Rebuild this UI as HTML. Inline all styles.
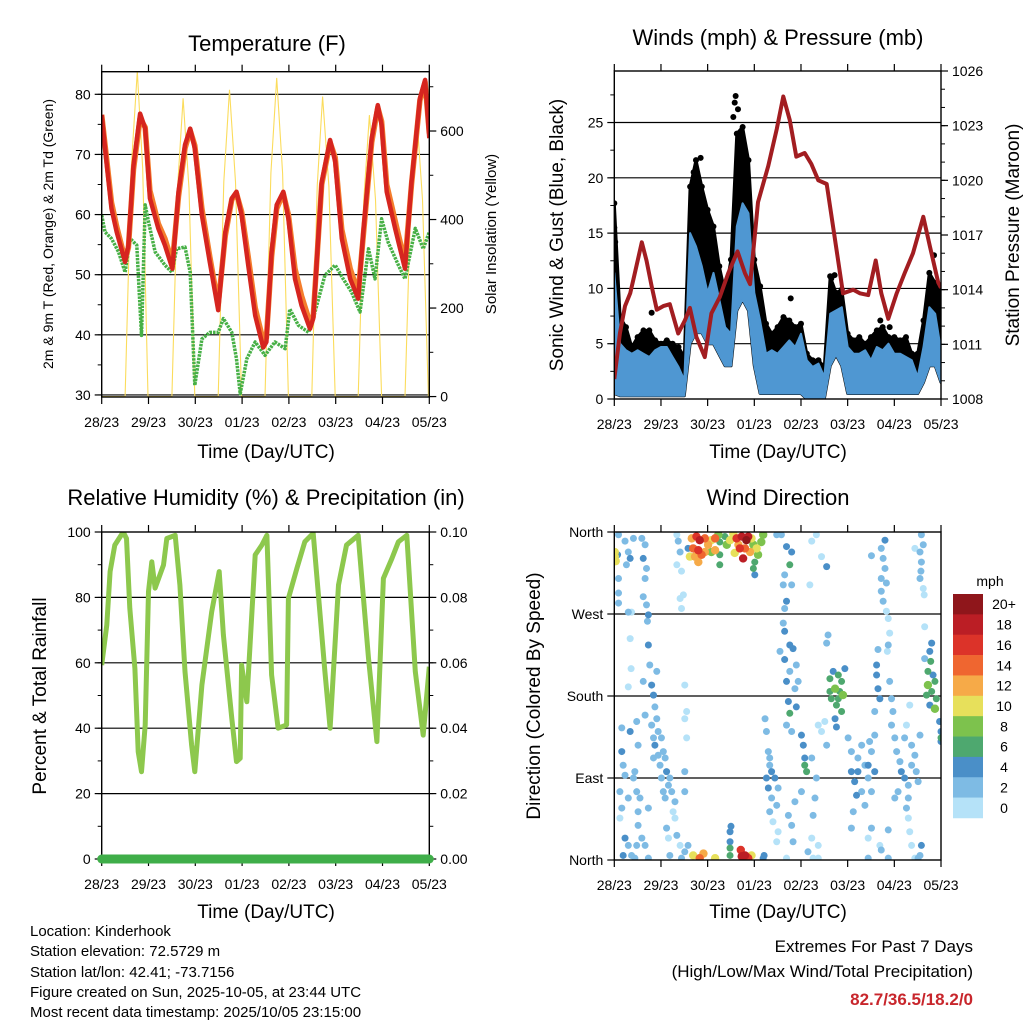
<!DOCTYPE html>
<html><head><meta charset="utf-8"><title>Kinderhook station charts</title>
<style>
html,body{margin:0;padding:0;background:#fff;}
svg{display:block;font-family:"Liberation Sans",Arial,sans-serif;}
</style></head>
<body>
<svg id="svg" width="1024" height="1024" viewBox="0 0 1024 1024" xmlns="http://www.w3.org/2000/svg">
<rect x="0" y="0" width="1024" height="1024" fill="#fff"/>
<g id="plots"></g>
<g id="text" font-family="Liberation Sans, Arial, sans-serif" fill="#000">
<text x="267" y="51" font-size="22" text-anchor="middle">Temperature (F)</text>
<text x="778" y="45" font-size="22" text-anchor="middle">Winds (mph) &amp; Pressure (mb)</text>
<text x="266" y="505" font-size="22" text-anchor="middle">Relative Humidity (%) &amp; Precipitation (in)</text>
<text x="778" y="505" font-size="22" text-anchor="middle">Wind Direction</text>
<text x="266" y="458" font-size="19" text-anchor="middle">Time (Day/UTC)</text>
<text x="778" y="458" font-size="19" text-anchor="middle">Time (Day/UTC)</text>
<text x="266" y="918" font-size="19" text-anchor="middle">Time (Day/UTC)</text>
<text x="778" y="918" font-size="19" text-anchor="middle">Time (Day/UTC)</text>
<text transform="translate(53,234) rotate(-90)" font-size="14" text-anchor="middle">2m &amp; 9m T (Red, Orange) &amp; 2m Td (Green)</text>
<text transform="translate(496,234) rotate(-90)" font-size="15" text-anchor="middle">Solar Insolation (Yellow)</text>
<text transform="translate(563,235) rotate(-90)" font-size="19" text-anchor="middle">Sonic Wind &amp; Gust (Blue, Black)</text>
<text transform="translate(1019,235) rotate(-90)" font-size="19" text-anchor="middle">Station Pressure (Maroon)</text>
<text transform="translate(46,696) rotate(-90)" font-size="19" text-anchor="middle">Percent &amp; Total Rainfall</text>
<text transform="translate(540,696) rotate(-90)" font-size="19" text-anchor="middle">Direction (Colored By Speed)</text>
<g font-size="15">
<text x="30" y="936">Location: Kinderhook</text>
<text x="30" y="956">Station elevation: 72.5729 m</text>
<text x="30" y="977">Station lat/lon: 42.41; -73.7156</text>
<text x="30" y="997">Figure created on Sun, 2025-10-05, at 23:44 UTC</text>
<text x="30" y="1017">Most recent data timestamp: 2025/10/05 23:15:00</text>
</g>
<text x="973" y="952" font-size="17" text-anchor="end">Extremes For Past 7 Days</text>
<text x="973" y="977" font-size="17" text-anchor="end">(High/Low/Max Wind/Total Precipitation)</text>
<text x="973" y="1005" font-size="17" font-weight="bold" fill="#c8262c" text-anchor="end">82.7/36.5/18.2/0</text>
</g>
</svg>
<script>
// ---------- data ----------
const dayLabels = ["28/23","29/23","30/23","01/23","02/23","03/23","04/23","05/23"];
const redT = [0,.11,.21,.32,.5,.57,.68,.82,.93,1.03,1.21,1.35,1.51,1.64,1.78,1.89,1.99,2.14,2.31,2.49,2.64,2.78,2.88,2.99,3.13,3.28,3.45,3.52,3.63,3.74,3.88,3.99,4.13,4.27,4.45,4.52,4.70,4.88,4.99,5.13,5.31,5.48,5.59,5.77,5.90,5.98,6.09,6.27,6.48,6.62,6.80,6.91,7.0];
const redV = [76.6,68.2,61,57.1,52.1,54.9,68.2,76.8,74.3,62.7,57.7,54.9,51,63.8,71.6,74.3,71,59.9,52.1,44.1,57.1,62.7,63.8,59.9,51.6,43.2,37.9,38.8,53.8,61.6,63.8,59.3,49.3,44.9,41,42.7,65.4,72.4,68.8,56,49.3,46,57.1,72.7,78.2,74.9,63.8,57.7,51,65.4,79.3,82.4,72.7];
const orangeV = [76.6,69,62,58,52.5,54.5,67.5,76,74.5,64,58.5,56,52,63,71,74,71.5,61,53,45,56.5,62.5,63.5,60.5,53,44.5,39,39.5,53,61,63.5,60,51,46.5,42,43,65,72,69.5,57.5,51,47,56.5,72,77.8,75.5,65,59,52,65,79,82,73.5];
const dewT = [0,.07,.21,.36,.5,.61,.75,.78,.85,.93,1.0,1.14,1.35,1.5,1.6,1.78,1.89,1.99,2.14,2.31,2.49,2.6,2.78,2.88,2.96,3.1,3.28,3.49,3.7,3.92,4.02,4.2,4.42,4.52,4.77,4.99,5.16,5.34,5.52,5.70,5.84,5.98,6.12,6.34,6.48,6.70,6.87,7];
const dewV = [59.9,57.1,56,53.8,50.4,56,54.9,50.4,39.9,61.6,58.8,53.8,51.6,50.4,54.3,54.6,50.4,31.6,39.3,40.4,40.4,42.7,40.4,36,30.2,36,38.8,36.6,38.8,37.7,44.3,41.6,40.4,42.7,49.9,51.6,49.3,47.1,43.8,54.3,49.3,59.3,55.4,51.6,49.3,57.7,54.3,57.1];
const solarT = [0,.5,.63,.76,.875,.99,1.5,1.62,1.74,1.865,1.99,2.49,2.61,2.73,2.86,2.99,3.49,3.615,3.74,3.865,3.99,4.49,4.605,4.72,4.855,4.99,5.48,5.6,5.72,5.85,5.98,6.48,6.605,6.73,6.855,6.98,7];
const solarW = [0,0,515,735,515,0,0,470,674,470,0,0,485,693,485,0,0,505,720,505,0,0,475,678,475,0,0,445,636,445,0,0,445,636,445,0,0];
// wind: samples every 3 hours (0.125 day)
const windStep = 0.125;
const windHigh = [11.4,5,4.4,4.1,4.4,4.1,3.8,4.4,4.7,4.7,3.8,2.9,1.7,15,13.8,12,9.6,11.4,9,6.5,5.9,15.6,17.7,16.8,9.6,7.1,4.1,4.4,4.1,4.7,5.3,4.7,5.9,3.5,2.9,3.2,2,7.7,8,8.3,4.7,4.1,4.1,4.4,3.5,4.7,4.4,5,4.1,4.1,3.8,3.5,2,4.7,8.3,7.7,4.4];
const windLow = [0.5,0.3,0.3,0.3,0.3,0.3,0.3,0.3,0.3,0.3,0.3,0.3,0.3,5,6,6,5,5,4,3,3,8,9,8,3,0.5,0.5,0.5,0.5,0.5,0.5,0.5,0.5,0,0,0,0,3,4,3,0.5,0.5,0.5,0.5,0.5,0.5,0.5,0.5,0.5,0.5,0.5,0.5,0.5,1.5,3,3,1.5];
const gustV = [17.7,7.4,6.5,4.7,5.6,6.2,6.2,5.3,5,5.3,5,4.7,3.8,19.2,21.6,19.2,17.1,15.6,12,9.6,12.6,24,24.6,21.6,12.6,10.2,6.8,5.9,6.5,7.4,7.1,6.5,6.8,4.1,3.5,3.5,2.9,11.1,9.6,9.9,5.9,5.3,5.6,5,5.6,6.2,6.5,5.6,5.6,5.3,5.6,4.1,4.1,7.1,11.4,10.5,9.6];
const gustOutT = [2.60,2.58,1.85,0.8,3.7,3.78,4.65,4.72,5.7,5.9,6.85,2.98,0,0.02,2.55,2.65,1.7];
const gustOutV = [27.4,26.8,21.8,7.8,6.8,9.1,10.9,11.2,7.1,6.5,13,15.1,15.5,14.2,25.5,26.2,20.5];
const presT = [0,.12,.23,.34,.44,.59,.69,.8,.91,1.05,1.19,1.37,1.51,1.62,1.76,1.94,2.08,2.26,2.44,2.64,2.80,2.91,3.08,3.30,3.48,3.62,3.76,3.90,4.08,4.22,4.37,4.55,4.72,4.90,5.12,5.26,5.44,5.60,5.72,5.87,6.05,6.22,6.4,6.62,6.76,6.94,7.0];
const presV = [1009.1,1011.6,1013.1,1013.8,1014.9,1016.6,1015.6,1014.2,1012.9,1013.1,1013.2,1011.6,1012.3,1013,1011.4,1010.3,1012.7,1013.6,1014.9,1016.1,1014.9,1014.3,1018.8,1020.8,1022.8,1024.6,1023.3,1021.3,1021.5,1020.9,1020,1019.8,1016.9,1013.8,1014,1013.8,1013.7,1015.6,1013.8,1012.4,1013.8,1014.9,1016,1018,1016.4,1014.4,1014.1];
const rhT = [0,.11,.18,.28,.46,.53,.6,.71,.78,.85,.93,1.0,1.07,1.14,1.32,1.39,1.57,1.67,1.78,1.92,1.99,2.14,2.35,2.51,2.60,2.78,2.88,2.96,2.99,3.1,3.28,3.42,3.53,3.63,3.77,3.95,3.99,4.17,4.34,4.52,4.77,4.88,5.06,5.23,5.48,5.7,5.88,6.02,6.2,6.34,6.52,6.70,6.87,7];
const rhV = [59.3,71.6,87.9,96,100,98,76.7,58.3,32.8,26.7,41,81.8,90.9,82.8,89.9,98,99,83.8,57.3,34.9,26.7,53.2,75.6,87.9,68.5,43,29.8,30.8,59.3,48.1,93,96,99,56.3,40,41,79.7,88.9,97,99.6,57.3,40,83.8,96,99,61.4,35.9,85.8,91.9,97,99,57.3,37.9,58.8];
const precipT = [0,7];
const precipV = [0,0];
const dirTime = [
.01,.03,.01,.09,.09,.09,.09,.07,.23,.3,.41,.34,.26,.3,.37,.59,.66,.62,.69,.66,.62,.69,.73,.71,
.34,.36,.3,.16,.34,.48,.51,.16,.19,.23,.12,.3,.16,.12,.23,.3,.19,.37,.48,.51,.59,.66,.41,.44,.48,.55,.51,.73,.73,.44,
.73,.76,.8,.84,.87,.91,.8,.94,1.01,.87,1.05,1.09,.98,1.12,1.01,1.16,1.23,1.3,1.09,1.26,1.3,1.19,.84,.94,.62,.91,.66,.84,1.05,
1.12,1.16,1.34,1.41,1.51,1.44,1.19,1.58,1.51,1.51,1.55,1.51,1.55,1.51,
1.34,1.37,1.41,1.34,1.44,1.41,1.48,1.44,1.58,
1.66,1.76,1.83,1.94,1.69,1.8,1.73,1.87,1.62,2.01,2.08,2.16,2.16,2.26,2.26,2.26,2.08,1.94,1.8,2.23,2.37,2.41,2.48,
2.62,2.73,2.83,2.87,2.69,2.8,2.66,2.76,2.58,2.91,2.94,2.98,3.01,2.98,3.01,3.08,3.15,3.19,3.05,2.55,
1.69,1.83,1.91,2.16,2.48,2.48,2.48,2.48,2.5,2.71,2.73,2.8,2.87,2.94,2.83,3.21,3.19,
3.48,3.58,3.69,3.8,3.76,3.65,3.62,3.69,3.8,3.65,
3.62,3.65,3.76,3.83,3.65,3.9,3.76,3.69,3.87,3.73,3.9,3.76,3.55,3.69,3.94,
3.23,3.26,3.3,3.33,3.37,3.44,3.3,3.37,3.48,3.33,3.4,3.51,3.48,3.26,3.33,3.51,
3.8,4.01,4.05,4.08,4.12,4.01,3.87,3.73,3.8,3.83,3.69,4.15,4.23,4.26,4.37,4.23,4.33,4.3,4.26,4.37,4.44,4.55,4.51,4.37,4.08,
4.23,4.33,4.44,4.55,4.19,4.58,4.55,
4.62,4.69,4.8,4.87,4.73,4.83,4.65,4.9,4.76,4.87,4.73,4.8,4.94,4.62,4.76,
5.01,5.08,5.08,5.15,5.22,5.3,5.37,5.44,5.51,5.58,5.3,5.19,5.51,5.47,5.37,5.58,5.12,5.08,5.22,5.44,
5.8,5.72,5.76,5.8,5.72,5.83,5.72,5.76,5.83,5.87,5.9,5.87,5.65,5.51,5.85,
5.62,5.65,5.69,5.58,5.62,5.9,5.94,5.97,5.94,6.01,
6.05,6.12,6.15,6.22,6.3,6.37,6.44,6.22,6.08,6.01,6.3,6.47,6.51,6.37,6.26,6.33,6.55,6.3,6.33,6.37,6.55,6.44,6.58,6.26,
6.58,6.62,6.55,6.58,6.57,6.62,6.64,6.55,6.44,6.65,
6.8,6.76,6.78,6.72,6.83,6.72,6.87,6.8,6.9,6.69,6.87,6.76,6.65,6.97,7,7,7,
5.44,5.87,6.51,5.69,5.72,5.51,5.87,5.44];
const dirDeg = [
338,328,333,357,309,293,282,335,350,338,353,331,324,272,272,353,346,331,320,309,289,280,269,262,
243,210,190,145,141,152,126,119,104,93,75,68,57,46,24,16,5,5,16,38,24,16,90,97,75,68,53,57,2,2,
236,214,192,181,168,155,148,141,134,126,119,112,104,97,90,82,75,64,68,53,46,90,134,115,196,207,159,112,75,
35,24,27,16,9,2,5,16,75,97,134,155,163,192,
357,350,338,324,317,287,291,276,342,
353,355,351,353,342,340,333,335,333,346,351,353,340,349,335,324,338,338,327,357,355,346,351,
353,355,351,355,342,342,346,331,337,338,353,346,327,320,313,335,349,357,342,358,
5,2,7,2,31,20,13,5,37,11,4,5,2,5,4,5,2,
357,357,344,338,324,313,302,284,302,276,
260,251,236,232,220,214,207,196,188,174,168,161,229,148,196,
155,141,119,104,97,90,79,68,60,53,42,31,20,90,112,79,
141,137,126,112,97,75,64,49,38,20,2,9,24,2,2,112,90,68,49,16,141,126,152,148,104,
350,357,333,322,302,247,238,
199,207,203,196,188,185,177,181,170,163,155,177,210,185,146,
134,119,97,86,112,126,104,90,75,97,75,71,119,130,60,137,53,35,97,104,
351,342,331,320,309,304,295,284,273,265,249,236,231,334,229,
203,188,177,163,214,196,177,163,148,134,
119,108,97,90,82,104,115,134,75,68,68,97,86,126,148,170,137,46,31,16,5,2,16,57,
357,346,338,327,317,298,291,309,342,256,
238,229,218,207,203,192,196,185,177,181,166,170,221,152,141,130,134,
2,2,2,16,11,35,33,24];
const dirSpeed = [
10,10,10,2,2,2,2,4,2,2,2,4,2,2,1,2,2,4,2,2,2,2,4,2,
1,1,1,2,4,2,2,4,2,2,2,2,2,1,4,2,4,2,2,2,2,2,2,2,2,2,2,2,2,2,
4,2,4,4,2,2,2,2,2,4,2,2,2,4,2,2,2,2,2,1,1,2,2,2,2,2,2,2,2,
2,1,2,1,2,2,2,2,2,2,1,1,1,1,
1,2,2,1,1,1,1,1,4,
12,16,18,14,14,16,12,14,10,12,10,14,12,6,6,6,8,12,12,8,6,8,10,
16,18,20,18,16,14,12,18,10,12,10,8,6,6,4,8,8,8,10,10,
10,14,12,10,4,4,6,6,4,16,18,18,16,10,14,4,4,
2,2,4,4,6,2,2,4,2,2,
2,4,4,4,4,2,2,4,2,4,4,6,2,2,2,
2,2,2,2,4,4,4,2,2,2,1,1,1,4,2,2,
2,4,4,4,6,2,2,2,2,2,1,2,1,1,1,2,2,2,2,1,1,2,1,1,6,
1,1,1,4,1,2,2,
6,4,6,6,8,6,6,8,6,6,4,6,4,6,4,
2,2,4,4,2,2,2,2,2,4,2,4,2,2,2,2,2,2,4,4,
4,2,2,2,2,2,2,2,1,1,1,2,2,2,1,
4,4,4,2,4,2,2,2,2,2,
2,2,4,4,2,2,2,2,2,2,2,2,2,2,1,1,2,1,1,1,2,1,4,2,
2,2,2,2,2,1,1,2,1,1,
4,4,6,6,4,8,6,6,6,6,8,4,2,4,4,4,6,
2,2,2,1,2,2,2,1];
const speedColors = ["#b5e2f8","#7ebbe4","#4a8fc8","#4ea86f","#7dc24d","#e7e05b","#f6aa48","#ef6630","#dc3329","#bb1e25","#8f161b"];
const speedLabels = ["0","2","4","6","8","10","12","14","16","18","20+"];
const tempTicks = [30,40,50,60,70,80];
const solarTicks = [0,200,400,600];
const windTicks = [0,5,10,15,20,25];
const presTicks = [1008,1011,1014,1017,1020,1023,1026];
const rhTicks = [0,20,40,60,80,100];
const precipTicks = ["0.00","0.02","0.04","0.06","0.08","0.10"];
const dirTicks = [0,90,180,270,360];
const dirLabels = ["North","East","South","West","North"];

// ---------- helpers ----------
const NS = "http://www.w3.org/2000/svg";
const root = document.getElementById("plots");
function mk(tag, attrs, parent){
  const e = document.createElementNS(NS, tag);
  for (const k in attrs) e.setAttribute(k, attrs[k]);
  (parent || root).appendChild(e);
  return e;
}
function lin(d0,d1,r0,r1){ return v => r0 + (v-d0)/(d1-d0)*(r1-r0); }
function pathFrom(xs, ys, sx, sy){
  let d = "";
  for (let i=0;i<xs.length;i++) d += (i?"L":"M") + sx(xs[i]).toFixed(1) + "," + sy(ys[i]).toFixed(1);
  return d;
}

const P1 = {x0:101.7,x1:429.3,y0:71.7,y1:397};
const P2 = {x0:614.3,x1:941,y0:71,y1:399};
const P3 = {x0:101.7,x1:429.3,y0:532,y1:859};
const P4 = {x0:614.3,x1:941,y0:532,y1:860};

function xAxis(P, name){
  const sx = lin(0,7,P.x0,P.x1);
  const g = mk("g",{});
  
  
  dayLabels.forEach((lab,i)=>{
    const x = sx(i);
    const tb = mk("line",{x1:x,x2:x,y1:P.y1,y2:P.y1+7,stroke:"#000","stroke-width":1.2},g);
    
    
    const tt = mk("line",{x1:x,x2:x,y1:P.y0,y2:P.y0-7,stroke:"#000","stroke-width":1.2},g);
    
    
    const t = mk("text",{x:x,y:P.y1+30,"font-size":14,"text-anchor":"middle"},g);
    t.textContent = lab;
    
    
  });
  return sx;
}
function yAxis(P, d0, d1, ticks, labels, side, minorStep, grid, name){
  const sy = lin(d0,d1,P.y1,P.y0);
  const g = mk("g",{});
  
  
  const xe = side==="left" ? P.x0 : P.x1;
  const dir = side==="left" ? -1 : 1;
  if (minorStep){
    for (let v = Math.ceil(d0/minorStep)*minorStep; v <= d1+1e-9; v += minorStep){
      const y = sy(v);
      const m = mk("line",{x1:xe,x2:xe+dir*4,y1:y,y2:y,stroke:"#000","stroke-width":1},g);
      
      
    }
  }
  ticks.forEach((v,i)=>{
    const y = sy(v);
    if (grid && v > d0 + 1e-6 && v < d1 - 1e-6){
      const gl = mk("line",{x1:P.x0,x2:P.x1,y1:y,y2:y,stroke:"#000","stroke-width":1.2},g);
      
      
    }
    const tk = mk("line",{x1:xe,x2:xe+dir*7,y1:y,y2:y,stroke:"#000","stroke-width":1.2},g);
    
    
    const t = mk("text",{x:xe+dir*11,y:y+5,"font-size":14,"text-anchor":side==="left"?"end":"start"},g);
    t.textContent = labels ? labels[i] : String(v);
    
    
  });
  return sy;
}
function frame(P, name){
  const r = mk("rect",{x:P.x0,y:P.y0,width:P.x1-P.x0,height:P.y1-P.y0,fill:"none",stroke:"#000","stroke-width":1.4});
  
  
}
function clip(P, id){
  const cp = mk("clipPath",{id:id});
  mk("rect",{x:P.x0,y:P.y0,width:P.x1-P.x0,height:P.y1-P.y0},cp);
  return "url(#"+id+")";
}

// ---------- Panel 1: temperature ----------
{
  const sx = xAxis(P1,"temp");
  const sy = yAxis(P1, 29.66, 83.76, tempTicks, null, "left", 5, true, "temp-y-axis");
  const ss = yAxis(P1, -1, 734, solarTicks, null, "right", 100, false, "solar-y-axis");
  const c = clip(P1,"c1");
  const g = mk("g",{"clip-path":c});
  
  
  const sol = mk("path",{d:pathFrom(solarT,solarW,sx,ss),fill:"none",stroke:"#fbdc5c","stroke-width":1.1},g);
  
  
  const dew = mk("path",{d:pathFrom(dewT,dewV,sx,sy),fill:"none",stroke:"#47b046","stroke-width":3.5,"stroke-dasharray":"2.5 1","stroke-linejoin":"round"},g);
  
  
  const or = mk("path",{d:pathFrom(redT,orangeV,sx,sy),fill:"none",stroke:"#f47d2c","stroke-width":5.5,"stroke-linejoin":"round"},g);
  
  
  const rd = mk("path",{d:pathFrom(redT,redV,sx,sy),fill:"none",stroke:"#d6251f","stroke-width":4.5,"stroke-linejoin":"round"},g);
  
  
  frame(P1,"temperature-plot-frame");
}

// ---------- Panel 2: winds & pressure ----------
{
  const sx = xAxis(P2,"winds");
  const sy = yAxis(P2, 0, 29.66, windTicks, null, "left", 2.5, true, "wind-y-axis");
  const sp = yAxis(P2, 1008, 1026, presTicks, null, "right", 1, false, "pressure-y-axis");
  const c = clip(P2,"c2");
  const g = mk("g",{"clip-path":c});
  
  
  const ts = windHigh.map((v,i)=>i*windStep);
  const tsR = ts.slice().reverse();
  let d = pathFrom(ts,gustV,sx,sy) + pathFrom(tsR,windLow.slice().reverse(),sx,sy).replace("M","L") + "Z";
  const gb = mk("path",{d:d,fill:"#000",stroke:"#000","stroke-width":3,"stroke-linejoin":"round"},g);
  
  
  gustV.forEach((v,i)=>{
    const cc = mk("circle",{cx:sx(ts[i]),cy:sy(v),r:3,fill:"#000"},g);
    
    
  });
  gustOutT.forEach((t,i)=>{
    const cc = mk("circle",{cx:sx(t),cy:sy(gustOutV[i]),r:3,fill:"#000"},g);
    
    
  });
  d = pathFrom(ts,windHigh,sx,sy) + pathFrom(tsR,windLow.slice().reverse(),sx,sy).replace("M","L") + "Z";
  const wb = mk("path",{d:d,fill:"#4f97d2",stroke:"#4f97d2","stroke-width":2,"stroke-linejoin":"round"},g);
  
  
  const pl = mk("path",{d:pathFrom(presT,presV,sx,sp),fill:"none",stroke:"#a21d21","stroke-width":4,"stroke-linejoin":"round"},g);
  
  
  frame(P2,"winds-plot-frame");
}

// ---------- Panel 3: RH & precip ----------
{
  const sx = xAxis(P3,"rh");
  const sy = yAxis(P3, 0, 100, rhTicks, null, "left", 10, true, "rh-y-axis");
  const sq = yAxis(P3, 0, 0.1, [0,0.02,0.04,0.06,0.08,0.1], precipTicks, "right", 0.01, false, "precip-y-axis");
  const c = clip(P3,"c3");
  const g = mk("g",{"clip-path":c});
  
  
  const rl = mk("path",{d:pathFrom(rhT,rhV,sx,sy),fill:"none",stroke:"#8dc84d","stroke-width":5,"stroke-linejoin":"round"},g);
  
  
  frame(P3,"rh-plot-frame");
  const pr = mk("path",{d:pathFrom(precipT,precipV,sx,sq),fill:"none",stroke:"#3fae49","stroke-width":9,"stroke-linecap":"round"});
  
  
}

// ---------- Panel 4: wind direction ----------
{
  const sx = xAxis(P4,"dir");
  const sy = yAxis(P4, 0, 360, dirTicks, dirLabels, "left", 0, true, "direction-y-axis");
  const c = clip(P4,"c4");
  const g = mk("g",{"clip-path":c});
  
  
  const order = dirTime.map((t,i)=>i).sort((a,b)=>dirSpeed[a]-dirSpeed[b]);
  order.forEach(i=>{
    const k = Math.min(10, Math.floor(dirSpeed[i]/2));
    const cc = mk("circle",{cx:sx(dirTime[i]),cy:sy(dirDeg[i]),r:k>=4?4.2:3.5,fill:speedColors[k]},g);
    
    
  });
  frame(P4,"direction-plot-frame");
  // colorbar
  const cb = mk("g",{});
  
  
  const y0 = 594, h = 20.36;
  const ml = mk("text",{x:990,y:586,"font-size":14,"text-anchor":"middle"},cb);
  ml.textContent = "mph";
  
  
  for (let j=0;j<11;j++){
    const k = 10-j;
    const r = mk("rect",{x:953,y:y0+j*h,width:30,height:h+0.3,fill:speedColors[k]},cb);
    
    
    const t = mk("text",{x:1004,y:y0+j*h+h/2+5,"font-size":14,"text-anchor":"middle"},cb);
    t.textContent = speedLabels[k];
    
    
  }
}
</script>
</body></html>
